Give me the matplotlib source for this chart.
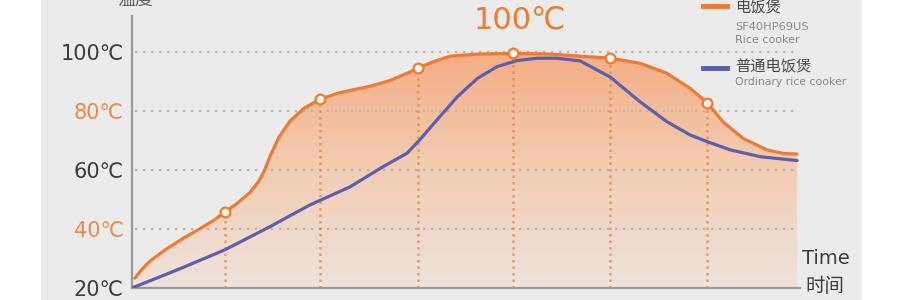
import matplotlib.pyplot as plt
import numpy as np
from matplotlib.colors import LinearSegmentedColormap
from matplotlib.patches import Rectangle

plt.rcParams["font.family"] = ["DejaVu Sans", "Noto Sans CJK SC"]

# time (arbitrary units) and temperature (°C)
t_rice = [0.3, 1.0, 1.9, 3.6, 5.3, 7.0, 8.4, 9.6, 10.9, 12.2, 13.1, 13.7, 14.3, 15.2, 16.4,
          17.8, 19.5, 21.2, 22.6, 24.7, 26.7, 28.5, 29.6, 31.2, 33.0, 35.8, 39.5,
          43.3, 46.4, 49.5, 52.6, 55.4, 57.8, 59.6, 61.2, 63.3, 65.8, 67.5, 68.9]
temp_rice = [23.3, 26.2, 29.2, 33.3, 36.8, 40.0, 42.8, 45.6, 48.7, 52.3, 56.0, 59.6, 64.6, 71.0, 76.7,
             80.9, 84.0, 85.9, 87.0, 88.4, 90.3, 92.8, 94.5, 96.7, 98.6, 99.3, 99.5,
             99.3, 98.6, 97.9, 96.2, 92.8, 87.7, 82.8, 76.4, 70.7, 66.8, 65.6, 65.4]

t_ordinary = [0.0, 4.8, 9.6, 14.3, 18.4, 22.6, 26.0, 28.5, 29.8, 31.6, 33.7, 35.8,
              37.8, 39.9, 42.0, 44.0, 46.4, 49.5, 52.6, 55.4, 57.8, 59.6, 62.0, 65.1, 68.9]
temp_ordinary = [20.0, 26.3, 32.9, 40.8, 48.1, 54.3, 61.1, 65.7, 70.2, 77.0, 84.8, 91.1,
                 95.0, 97.1, 97.9, 97.9, 97.0, 91.6, 83.2, 76.4, 71.9, 69.6, 66.8, 64.5, 63.2]

marker_t = [9.6, 19.5, 29.6, 39.5, 49.5, 59.6]
marker_temp = [45.6, 84.0, 94.5, 99.5, 97.9, 82.8]

yticks = [20, 40, 60, 80, 100]
ytick_labels = ["20℃", "40℃", "60℃", "80℃", "100℃"]

ORANGE = "#ee7b30"
BLUE = "#5a5fae"
DARK = "#3d3d3d"
GRAY = "#8a8a8a"

fig = plt.figure(figsize=(9, 3), dpi=100)
fig.patch.set_facecolor("white")
fig.patches.append(Rectangle((41 / 900, 0), (862 - 41) / 900, 1, transform=fig.transFigure,
                             facecolor="#ebebeb", edgecolor="none", zorder=-5))

ax = fig.add_axes([132 / 900, 12 / 300, 668 / 900, 272 / 300])
ax.set_zorder(2)
ax.set_facecolor("none")
ax.set_xlim(0, 69.2)
ax.set_ylim(20, 112.2)

# gradient fill under the rice cooker curve
cmap = LinearSegmentedColormap.from_list("warm", ["#eee3dc", "#f2cdb3", "#f3ae83"])
grad = np.linspace(0, 1, 256).reshape(-1, 1)
img = ax.imshow(grad, extent=[0, 69.2, 20, 100], origin="lower", aspect="auto",
                cmap=cmap, zorder=1)
poly = ax.fill_between(t_rice, temp_rice, 20, color="none", lw=0)
img.set_clip_path(poly.get_paths()[0], transform=ax.transData)

# dotted horizontal grid
for y in yticks[1:]:
    ax.plot([0.3, 69.0], [y, y], color="#b4b4b4", lw=1.6, ls=(0, (1, 2.6)), zorder=2)

# dotted drop lines from markers
for mt, mv in zip(marker_t, marker_temp):
    ax.plot([mt, mt], [20, mv], color="#e9874a", lw=1.8, ls=(0, (1, 1.6)), alpha=0.75, zorder=3)

ax.plot(t_ordinary, temp_ordinary, color=BLUE, lw=2.3, zorder=4,
        solid_capstyle="round", solid_joinstyle="round")
ax.plot(t_rice, temp_rice, color=ORANGE, lw=2.3, zorder=5,
        solid_capstyle="round", solid_joinstyle="round")
ax.plot(marker_t, marker_temp, ls="none", marker="o", ms=7, mfc="#fff8ee",
        mec=ORANGE, mew=1.6, zorder=6)

for side in ["top", "right"]:
    ax.spines[side].set_visible(False)
for side in ["left", "bottom"]:
    ax.spines[side].set_color("#999999")
    ax.spines[side].set_linewidth(1.6)
ax.set_xticks([])
ax.set_yticks(yticks)
ax.set_yticklabels(ytick_labels, fontsize=15)
ax.tick_params(axis="y", length=0, pad=6)
for lbl, v in zip(ax.get_yticklabels(), yticks):
    lbl.set_color("#ee8a45" if v in (40, 80) else DARK)


# texts in pixel positions
def px(x, y):
    return x / 900, 1 - y / 300


fig.text(*px(135, 0), "温度", fontsize=13, color="#666666", ha="center", va="center")
fig.text(*px(520, 20), "100℃", fontsize=22, color=ORANGE, ha="center", va="center")
fig.text(*px(826, 259), "Time", fontsize=14, color=DARK, ha="center", va="center")
fig.text(*px(825, 287), "时间", fontsize=14, color=DARK, ha="center", va="center")

fig.add_artist(plt.Line2D([703 / 900, 727 / 900], [1 - 6 / 300] * 2, color=ORANGE, lw=3.5))
fig.text(*px(735, 7), "电饭煲", fontsize=11, color="#4a4a4a", ha="left", va="center")
fig.text(*px(735, 27), "SF40HP69US", fontsize=8.2, color=GRAY, ha="left", va="center")
fig.text(*px(735, 40), "Rice cooker", fontsize=8, color=GRAY, ha="left", va="center")
fig.add_artist(plt.Line2D([703 / 900, 727 / 900], [1 - 68 / 300] * 2, color=BLUE, lw=3.5))
fig.text(*px(735, 66), "普通电饭煲", fontsize=11, color="#4a4a4a", ha="left", va="center")
fig.text(*px(735, 82), "Ordinary rice cooker", fontsize=7.8, color=GRAY, ha="left", va="center")

fig.savefig("out.png", dpi=100)
